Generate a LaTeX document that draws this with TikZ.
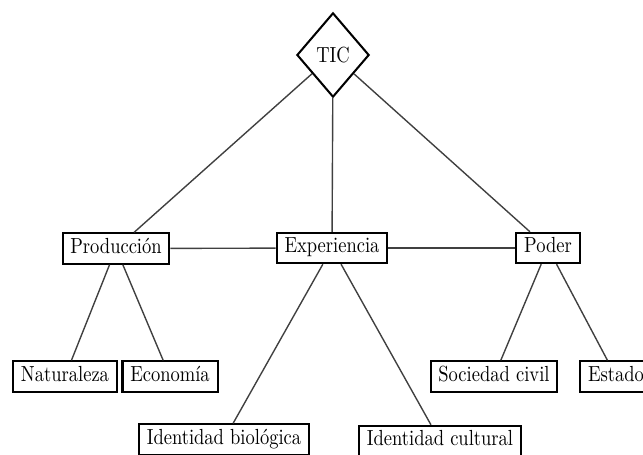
\documentclass[tikz,border=0pt]{standalone}
\usepackage{graphicx}
\usetikzlibrary{shapes.geometric}
\newcommand{\vst}[1]{\scalebox{1}[1.18]{#1}}
\begin{document}
\begin{tikzpicture}[x=0.54pt,y=-0.54pt,
  box/.style={draw=black,line width=1.1pt,fill=white,inner xsep=4.2pt,inner ysep=3.2pt,
    text height=7.6pt,text depth=2.4pt},
  link/.style={draw=black!75,line width=0.75pt}]
\useasboundingbox (0,0) rectangle (643,455);
\begin{scope}
\clip (0,0) rectangle (643,455);
\node[draw=black,line width=1.1pt,shape=diamond,aspect=0.86,inner sep=0pt,
  minimum width=39pt,minimum height=45.5pt] (tic) at (333,55) {\vst{TIC}};
\node[box] (prod) at (116,248.5) {\vst{Producción}};
\node[box] (exp) at (332,248) {\vst{Experiencia}};
\node[box] (pod) at (548,248) {\vst{Poder}};
\node[box] (nat) at (65,376.5) {\vst{Naturaleza}};
\node[box] (eco) at (170,376.5) {\vst{Economía}};
\node[box] (soc) at (494,376.5) {\vst{Sociedad civil}};
\node[box] (est) at (616,376.5) {\vst{Estado}};
\node[box] (idb) at (224,439.5) {\vst{Identidad biológica}};
\node[box] (idc) at (440,441) {\vst{Identidad cultural}};
\draw[link] (tic) -- (prod);
\draw[link] (tic) -- (exp);
\draw[link] (tic) -- (pod);
\draw[link] (prod) -- (exp);
\draw[link] (exp) -- (pod);
\draw[link] (prod) -- (nat);
\draw[link] (prod) -- (eco);
\draw[link] (exp) -- (idb);
\draw[link] (exp) -- (idc);
\draw[link] (pod) -- (soc);
\draw[link] (pod) -- (est);
\end{scope}
\end{tikzpicture}
\end{document}
